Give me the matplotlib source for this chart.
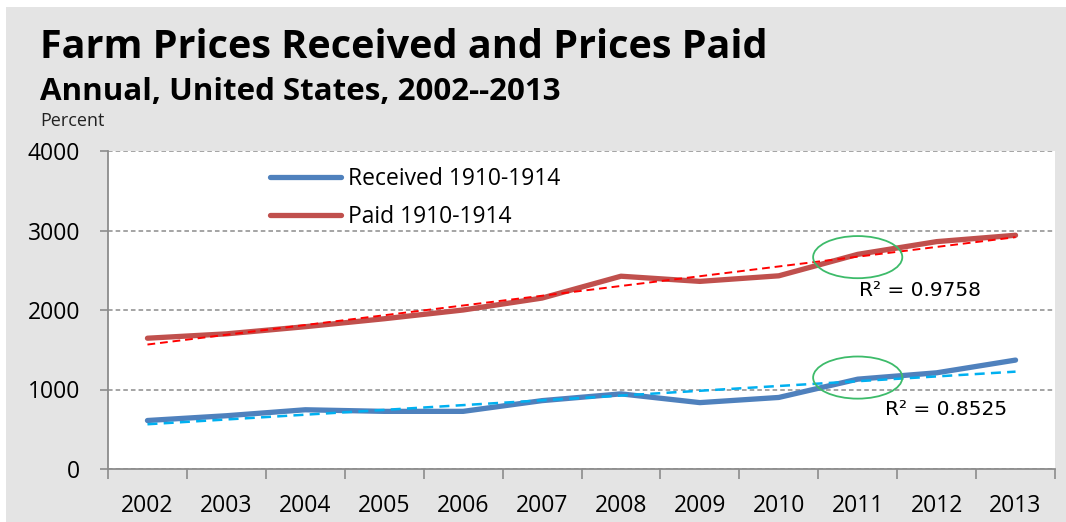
import numpy as np
import matplotlib
matplotlib.use("Agg")
import matplotlib.pyplot as plt
from matplotlib.patches import Ellipse, Rectangle

plt.rcParams['font.family'] = ['Open Sans', 'DejaVu Sans']

# data
years = ['2002', '2003', '2004', '2005', '2006', '2007',
         '2008', '2009', '2010', '2011', '2012', '2013']
received = [610, 670, 745, 725, 725, 860, 945, 835, 900, 1130, 1210, 1370]
paid = [1645, 1700, 1790, 1890, 2000, 2150, 2425, 2360, 2430, 2700, 2860, 2940]
r2_received = 'R² = 0.8525'
r2_paid = 'R² = 0.9758'
yticks = [0, 1000, 2000, 3000, 4000]

blue = '#4F81BD'
red = '#C0504D'
bg = '#e4e4e4'

fig = plt.figure(figsize=(10.66, 5.22), dpi=100)
fig.patch.set_facecolor('white')
# gray panel (the slide background), small white margin top/left
fig.patches.append(Rectangle((6 / 1066, 0), 1, 1 - 7 / 522, transform=fig.transFigure,
                             facecolor=bg, edgecolor='none', zorder=-10))

ax = fig.add_axes([108 / 1066, 53 / 522, 947 / 1066, 318 / 522])
ax.set_facecolor('white')

x = np.arange(len(years))

# linear trend lines
for vals, c, lw in [(paid, '#ff0000', 1.4), (received, '#00b0f0', 1.8)]:
    k, b = np.polyfit(x, vals, 1)
    ax.plot(x, k * x + b, color=c, lw=lw, ls=(0, (4, 2.5)), zorder=4)

ax.plot(x, received, color=blue, lw=3.8, solid_capstyle='round', zorder=3,
        label='Received 1910-1914')
ax.plot(x, paid, color=red, lw=3.8, solid_capstyle='round', zorder=3,
        label='Paid 1910-1914')

# highlight circles around 2011
for yc in [2665, 1150]:
    ax.add_patch(Ellipse((9.0, yc), 1.13, 530, fill=False, ec='#3dbb6a',
                         lw=1.3, zorder=5))

ax.text(9.79, 2240, r2_paid, fontsize=14.5, ha='center', va='center',
        family=['DejaVu Sans'])
ax.text(10.12, 750, r2_received, fontsize=14.5, ha='center', va='center',
        family=['DejaVu Sans'])

ax.set_xlim(-0.5, len(years) - 0.5)
ax.set_ylim(0, 4000)
ax.set_yticks(yticks)
ax.set_xticks(x)
ax.set_xticklabels(years)
ax.set_xticks(np.arange(-0.5, len(years)), minor=True)
ax.tick_params(axis='x', which='major', length=0, pad=18, labelsize=16.5)
ax.tick_params(axis='x', which='minor', length=7, width=1.2, color='#8c8c8c', direction='out')
ax.tick_params(axis='y', length=6, width=1.2, color='#8c8c8c', pad=14, labelsize=16.5)

ax.grid(axis='y', color='#8c8c8c', ls=(0, (3, 2)), lw=1.1)
ax.set_axisbelow(True)
for s in ['top', 'right']:
    ax.spines[s].set_visible(False)
for s in ['left', 'bottom']:
    ax.spines[s].set_color('#8c8c8c')
    ax.spines[s].set_linewidth(1.3)

leg = ax.legend(loc='upper left', bbox_to_anchor=(0.171, 0.95), frameon=False,
                fontsize=16.5, handlelength=3.1, handletextpad=0.3,
                labelspacing=0.6, borderpad=0, borderaxespad=0)

fig.text(40 / 1066, 1 - 58 / 522, 'Farm Prices Received and Prices Paid',
         fontsize=28.5, fontweight='bold', va='baseline', ha='left')
fig.text(40 / 1066, 1 - 100 / 522, 'Annual, United States, 2002--2013',
         fontsize=22.5, fontweight='bold', va='baseline', ha='left')
fig.text(40 / 1066, 1 - 126 / 522, 'Percent', fontsize=13,
         va='baseline', ha='left', color='#222222')

fig.savefig('out.png', dpi=100, facecolor=fig.get_facecolor())
